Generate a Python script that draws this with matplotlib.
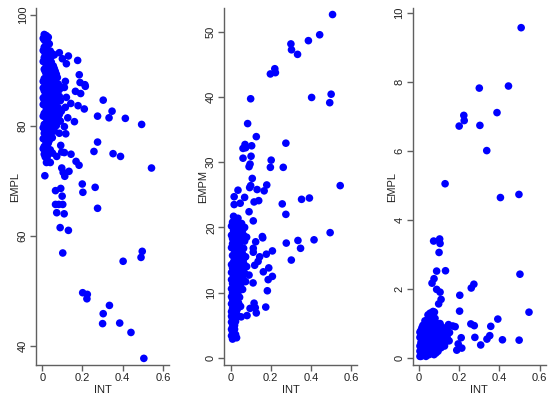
import numpy as np
import matplotlib
matplotlib.use("Agg")
import matplotlib.pyplot as plt

plt.rcParams['font.family'] = ['Liberation Sans', 'DejaVu Sans']

# Panel 1: INT vs EMPL
p1_points = [
    (0.176,91.8),(0.130,92.6),(0.120,91.2),(0.085,93.2),(0.100,92.1),(0.184,89.2),(0.188,87.8),
    (0.212,87.4),(0.214,87.1),(0.115,88.0),(0.165,86.2),(0.191,85.8),(0.303,84.6),(0.347,82.6),
    (0.275,81.7),(0.332,81.4),(0.413,81.3),(0.494,80.2),(0.209,83.0),(0.178,83.6),(0.142,84.0),
    (0.115,83.3),(0.127,81.4),(0.160,80.7),(0.120,85.1),(0.110,86.9),(0.094,86.9),(0.110,79.8),
    (0.117,78.5),(0.085,78.6),(0.092,76.4),(0.275,77.0),(0.257,75.3),(0.352,74.9),(0.389,74.4),
    (0.543,72.3),(0.097,75.2),(0.110,75.1),(0.143,74.8),(0.051,75.0),(0.072,74.4),(0.168,73.5),
    (0.183,72.8),(0.097,72.3),(0.104,71.5),(0.133,71.7),(0.112,70.8),(0.021,73.3),(0.040,73.3),
    (0.013,70.9),(0.199,69.4),(0.263,68.8),(0.202,67.9),(0.092,68.6),(0.066,68.2),(0.099,67.2),
    (0.066,65.7),(0.082,65.7),(0.102,65.7),(0.072,64.2),(0.109,64.0),(0.275,65.0),(0.089,61.5),
    (0.130,61.0),(0.102,56.9),(0.497,57.2),(0.491,56.1),(0.402,55.4),(0.201,49.7),(0.224,49.4),
    (0.222,48.6),(0.334,47.4),(0.303,45.9),(0.300,44.1),(0.385,44.2),(0.441,42.5),(0.505,37.8),
    # dense cluster
    (0.010,96.5),(0.020,96.3),(0.030,96.0),(0.010,95.5),(0.020,95.0),(0.035,94.8),(0.010,94.2),
    (0.025,93.8),(0.040,93.5),(0.050,93.0),(0.015,93.0),(0.060,92.8),
    (0.010,92.3),(0.030,92.0),(0.045,91.5),(0.020,91.0),(0.055,90.8),(0.010,90.2),(0.035,90.0),
    (0.065,89.8),(0.020,89.3),(0.050,89.0),(0.075,88.7),(0.010,88.5),(0.040,88.2),(0.060,88.0),
    (0.015,87.6),(0.030,87.3),(0.050,87.0),(0.070,86.8),(0.085,86.5),(0.010,86.3),(0.040,86.0),
    (0.060,85.7),(0.025,85.3),(0.075,85.2),(0.045,84.8),(0.010,84.6),(0.090,84.5),(0.030,84.2),
    (0.065,84.0),
    (0.015,83.6),(0.050,83.4),(0.080,83.2),(0.030,82.9),(0.095,82.6),(0.060,82.4),(0.010,82.2),
    (0.040,81.9),(0.075,81.6),(0.020,81.3),(0.055,81.0),(0.090,80.8),(0.035,80.5),(0.010,80.2),
    (0.070,80.0),(0.045,79.8),
    (0.020,79.4),(0.060,79.0),(0.010,78.6),(0.035,78.3),(0.050,77.8),(0.015,77.4),(0.030,76.8),
    (0.010,76.2),(0.040,75.6),(0.020,75.0),(0.015,74.3),(0.030,73.5),
    (0.005,95.8),(0.025,95.5),(0.005,93.6),(0.035,93.2),(0.045,92.5),(0.005,91.6),(0.025,91.5),
    (0.040,90.8),(0.060,90.3),(0.015,89.8),(0.030,89.0),(0.070,89.3),(0.005,88.0),(0.025,87.9),
    (0.045,87.7),(0.060,87.3),(0.080,87.5),(0.005,86.8),(0.020,86.6),(0.055,86.3),(0.075,86.0),
    (0.035,85.8),(0.015,85.5),(0.050,85.5),(0.085,85.3),(0.005,85.0),(0.065,84.9),(0.020,84.5),
    (0.040,84.3),(0.075,84.3),(0.005,83.8),(0.030,83.7),(0.065,83.5),(0.045,83.1),(0.020,82.8),
    (0.075,82.7),(0.085,82.0),(0.005,81.7),(0.050,82.2),(0.030,81.7),(0.065,81.3),(0.040,80.9),
    (0.080,81.2),(0.020,80.4),(0.060,80.3),(0.005,79.6),(0.030,79.4),(0.045,78.8),(0.025,78.0),
    (0.005,77.6),(0.020,76.8),(0.035,77.3),(0.005,75.8),(0.025,75.8),(0.010,74.8),(0.025,74.4),
]

# Panel 2: INT vs EMPM
p2_points = [
    (0.507,52.6),(0.443,49.5),(0.387,48.6),(0.300,48.1),(0.303,47.2),(0.333,46.5),(0.220,44.3),
    (0.223,43.7),(0.198,43.5),(0.100,39.7),(0.403,39.9),(0.500,40.4),(0.493,39.1),(0.085,35.9),
    (0.128,33.9),(0.072,32.7),(0.062,32.1),(0.075,32.2),(0.105,32.5),(0.275,32.9),(0.062,30.6),
    (0.102,30.9),(0.097,29.7),(0.092,29.3),(0.202,30.3),(0.198,29.2),(0.262,29.2),(0.108,27.5),
    (0.545,26.4),(0.180,26.5),(0.100,26.4),(0.095,26.1),(0.037,25.7),(0.132,25.8),(0.167,25.6),
    (0.018,24.7),(0.070,24.6),(0.353,24.3),(0.392,24.5),(0.018,23.5),(0.048,23.7),(0.117,23.9),
    (0.140,24.1),(0.257,23.6),(0.275,22.0),(0.092,22.4),(0.015,21.7),(0.037,21.4),(0.113,21.0),
    (0.158,18.6),(0.277,17.6),(0.335,18.0),(0.415,18.1),(0.495,19.2),(0.348,16.8),(0.208,16.4),
    (0.302,15.0),(0.125,17.8),(0.113,16.8),(0.113,16.2),(0.178,15.9),(0.145,15.5),(0.120,14.2),
    (0.190,13.8),(0.163,13.2),(0.208,12.5),(0.187,12.0),(0.092,12.7),(0.112,11.5),(0.183,10.3),
    (0.117,8.4),(0.123,7.7),(0.175,7.8),(0.097,7.6),(0.082,6.5),(0.128,6.9),(0.053,6.3),
    (0.137,14.8),(0.160,18.4),
    # dense cluster
    (0.010,20.8),(0.025,20.5),(0.040,20.3),(0.055,20.6),(0.070,20.0),(0.015,19.5),(0.035,19.2),
    (0.050,19.0),(0.065,18.8),(0.080,18.5),(0.010,18.3),(0.025,18.0),(0.045,18.2),
    (0.010,17.5),(0.030,17.3),(0.050,17.0),(0.065,16.8),(0.020,16.5),(0.040,16.2),(0.060,15.9),
    (0.010,15.7),(0.075,15.5),(0.030,15.3),(0.050,15.0),(0.015,14.7),(0.065,14.5),(0.040,14.2),
    (0.080,14.0),
    (0.010,13.8),(0.025,13.5),(0.055,13.3),(0.070,13.0),(0.040,12.7),(0.015,12.4),(0.060,12.2),
    (0.030,11.9),(0.075,11.7),(0.010,11.4),(0.045,11.1),(0.020,10.8),(0.060,10.5),(0.035,10.2),
    (0.010,10.0),
    (0.025,9.6),(0.045,9.3),(0.010,9.0),(0.035,8.6),(0.020,8.2),(0.050,7.9),(0.010,7.6),
    (0.030,7.2),(0.015,6.8),(0.040,6.4),(0.010,6.0),(0.025,5.6),(0.015,5.2),
    (0.010,4.8),(0.020,4.4),(0.010,4.0),(0.025,3.6),(0.015,3.2),(0.010,2.9),(0.030,3.1),
    (0.005,20.2),(0.020,19.8),(0.045,19.7),(0.060,19.6),(0.005,18.8),(0.030,18.6),(0.055,18.4),
    (0.070,17.9),(0.020,17.8),(0.040,17.6),(0.005,16.9),(0.055,16.3),(0.030,16.0),(0.020,15.1),
    (0.040,15.6),(0.065,15.2),(0.005,14.3),(0.025,14.2),(0.055,14.0),(0.035,13.7),(0.005,13.1),
    (0.045,13.1),(0.025,12.8),(0.065,12.8),(0.005,12.0),(0.045,12.0),(0.020,11.6),(0.055,11.5),
    (0.030,10.9),(0.005,10.6),(0.045,10.4),(0.025,10.2),(0.005,9.4),(0.035,9.9),(0.015,9.5),
    (0.035,9.3),(0.020,8.9),(0.005,8.3),(0.040,8.4),(0.025,7.9),(0.005,7.1),(0.035,7.6),
    (0.020,7.4),(0.005,6.4),(0.025,6.4),(0.005,5.5),(0.020,5.0),(0.005,4.4),(0.015,3.8),
    (0.005,3.4),
]

# Panel 3: INT vs EMPL
p3_points = [
    (0.508,9.57),(0.445,7.88),(0.300,7.82),(0.388,7.11),(0.223,7.03),(0.225,6.88),(0.200,6.72),
    (0.303,6.74),(0.337,6.01),(0.130,5.05),(0.405,4.65),(0.497,4.74),(0.103,3.45),(0.105,3.32),
    (0.073,3.39),(0.100,3.06),(0.088,2.52),(0.132,2.53),(0.502,2.43),(0.075,2.30),(0.065,2.17),
    (0.088,1.99),(0.105,1.91),(0.273,2.14),(0.260,2.03),(0.203,1.82),(0.110,1.70),(0.098,1.57),
    (0.547,1.33),(0.202,1.36),(0.392,1.13),(0.258,0.99),(0.275,0.94),(0.357,0.92),(0.147,0.97),
    (0.168,0.93),(0.180,0.91),(0.055,1.30),(0.077,1.33),(0.498,0.52),(0.415,0.53),(0.352,0.65),
    (0.338,0.55),(0.307,0.38),(0.278,0.60),(0.210,0.59),(0.213,0.29),(0.188,0.23),(0.195,0.41),
    (0.152,0.74),(0.130,0.73),(0.107,0.59),(0.127,0.35),
    # dense cluster
    (0.010,0.05),(0.020,0.10),(0.035,0.05),(0.050,0.10),(0.065,0.15),(0.005,0.20),(0.015,0.30),
    (0.030,0.25),(0.045,0.30),(0.060,0.35),(0.080,0.30),(0.010,0.45),(0.025,0.50),(0.040,0.45),
    (0.055,0.55),(0.070,0.50),(0.090,0.45),(0.005,0.60),(0.020,0.65),(0.035,0.70),(0.050,0.75),
    (0.065,0.70),(0.085,0.65),(0.100,0.60),(0.010,0.80),(0.030,0.85),(0.045,0.90),(0.060,0.95),
    (0.080,0.90),(0.100,0.85),(0.020,0.95),(0.040,1.05),(0.055,1.10),(0.070,1.05),(0.090,1.00),
    (0.115,0.90),(0.120,0.70),(0.140,0.60),(0.130,0.45),(0.110,0.30),(0.095,0.20),(0.075,0.10),
    (0.060,1.30),(0.070,1.35),(0.045,1.25),
    (0.005,0.05),(0.025,0.20),(0.040,0.15),(0.055,0.20),(0.070,0.25),(0.085,0.15),(0.015,0.15),
    (0.005,0.35),(0.020,0.40),(0.035,0.35),(0.050,0.40),(0.065,0.40),(0.075,0.38),(0.100,0.38),
    (0.015,0.55),(0.030,0.55),(0.045,0.60),(0.060,0.60),(0.080,0.55),(0.095,0.55),(0.005,0.75),
    (0.025,0.75),(0.040,0.80),(0.055,0.85),(0.075,0.78),(0.090,0.75),(0.110,0.75),(0.015,0.88),
    (0.035,0.95),(0.050,1.00),(0.065,0.90),(0.085,0.85),(0.030,1.08),(0.050,1.20),(0.065,1.20),
    (0.080,1.15),(0.105,1.00),(0.125,0.85),(0.140,0.80),(0.150,0.50),(0.120,0.50),
]

x_ticks = [0, 0.2, 0.4, 0.6]
x_tick_labels = ["0", "0.2", "0.4", "0.6"]
p1_yticks = [40, 60, 80, 100]
p2_yticks = [0, 10, 20, 30, 40, 50]
p3_yticks = [0, 2, 4, 6, 8, 10]

panels = [
    (p1_points, "EMPL", p1_yticks, (36.6, 101.3), 36),
    (p2_points, "EMPM", p2_yticks, (-1.07, 53.6), 224.3),
    (p3_points, "EMPL", p3_yticks, (-0.2, 10.14), 412.7),
]

W, H = 550, 400
fig = plt.figure(figsize=(5.5, 4.0), dpi=100)
axis_color = '#606060'
for pts, ylab, yt, ylim, left_px in panels:
    width_px = 133
    ax = fig.add_axes([left_px / W, 35 / H, width_px / W, 357 / H])
    arr = np.array(pts)
    ax.scatter(arr[:, 0], arr[:, 1], s=30, color='#0000ff', edgecolors='none', zorder=3)
    ax.set_xlim(-0.031, 0.63)
    ax.set_ylim(*ylim)
    ax.set_xticks(x_ticks)
    ax.set_xticklabels(x_tick_labels)
    ax.set_yticks(yt)
    ax.set_yticklabels([str(v) for v in yt], rotation=90, va='center')
    for s in ['top', 'right']:
        ax.spines[s].set_visible(False)
    for s in ['left', 'bottom']:
        ax.spines[s].set_color(axis_color)
        ax.spines[s].set_linewidth(1.0)
    ax.tick_params(axis='both', direction='out', length=4, width=1.0, color=axis_color,
                   labelsize=8, pad=2, labelcolor='#222222')
    ax.set_xlabel("INT", fontsize=8, labelpad=1, color='#222222')
    ax.set_ylabel(ylab, fontsize=8, labelpad=3, color='#222222')
    ax.yaxis.set_label_coords(-16.0 / width_px, 0.5)
    ax.patch.set_alpha(0)

fig.savefig("out.png", dpi=100)
